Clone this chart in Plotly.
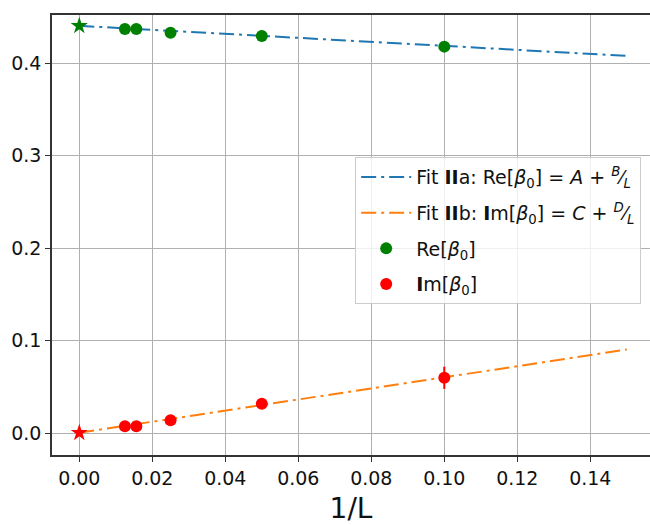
import plotly.graph_objects as go

# Data
inv_L = [0.0125, 0.015625, 0.025, 0.05, 0.1]
re_beta = [0.437, 0.437, 0.433, 0.4295, 0.418]
re_err = [0.001, 0.001, 0.001, 0.002, 0.003]
im_beta = [0.0075, 0.0075, 0.0140, 0.0320, 0.0600]
im_err = [0.001, 0.001, 0.002, 0.003, 0.012]
extrap_x = [0.0]
re_extrap = [0.4405]
im_extrap = [0.0005]
fit_x = [0.0, 0.15]
re_fit = [0.4405, 0.408]
im_fit = [0.0005, 0.0905]
x_ticks = [0.00, 0.02, 0.04, 0.06, 0.08, 0.10, 0.12, 0.14]
y_ticks = [0.0, 0.1, 0.2, 0.3, 0.4]

FONT = "DejaVu Sans"
fig = go.Figure()

fig.add_trace(go.Scatter(
    x=fit_x, y=re_fit, mode="lines", legendgroup="a",
    line=dict(color="#1f77b4", width=2, dash="15px,5px,3px,5px"),
    name="Fit <b>II</b>a: Re[<i>β</i><sub>0</sub>] = <i>A</i> + <sup><i>B</i></sup>⁄<sub><i>L</i></sub>"))
fig.add_trace(go.Scatter(
    x=fit_x, y=im_fit, mode="lines", legendgroup="b",
    line=dict(color="#ff7f0e", width=2, dash="15px,5px,3px,5px"),
    name="Fit <b>II</b>b: <b>I</b>m[<i>β</i><sub>0</sub>] = <i>C</i> + <sup><i>D</i></sup>⁄<sub><i>L</i></sub>"))
fig.add_trace(go.Scatter(
    x=inv_L, y=re_beta, mode="markers", legendgroup="c",
    marker=dict(color="green", size=12),
    error_y=dict(type="data", array=re_err, color="green", thickness=2, width=0),
    name="Re[<i>β</i><sub>0</sub>]"))
fig.add_trace(go.Scatter(
    x=inv_L, y=im_beta, mode="markers", legendgroup="d",
    marker=dict(color="red", size=12),
    error_y=dict(type="data", array=im_err, color="red", thickness=2, width=0),
    name="<b>I</b>m[<i>β</i><sub>0</sub>]"))
fig.add_trace(go.Scatter(
    x=extrap_x, y=re_extrap, mode="markers",
    marker=dict(color="green", size=13, symbol="star"), showlegend=False))
fig.add_trace(go.Scatter(
    x=extrap_x, y=im_extrap, mode="markers",
    marker=dict(color="red", size=13, symbol="star"), showlegend=False))

axis_common = dict(
    showgrid=True, gridcolor="#b0b0b0", gridwidth=1,
    showline=True, linecolor="#333333", linewidth=1.5,
    ticks="outside", ticklen=5, tickcolor="#333333",
    tickfont=dict(family=FONT, size=19, color="#111111"),
    zeroline=False,
)

fig.update_layout(
    width=650, height=525,
    margin=dict(l=52, r=0, t=15, b=70),
    paper_bgcolor="white", plot_bgcolor="white",
    font=dict(family=FONT, size=19, color="#111111"),
    xaxis=dict(axis_common, range=[-0.00748, 0.15636], tickvals=x_ticks,
               tickformat=".2f", mirror=True,
               title=dict(text="1/L", font=dict(family=FONT, size=28), standoff=12)),
    yaxis=dict(axis_common, range=[-0.0235, 0.4522], tickvals=y_ticks,
               tickformat=".1f", mirror=False),
    legend=dict(x=0.507, y=0.677, xanchor="left", yanchor="top",
                bgcolor="rgba(255,255,255,0.8)", bordercolor="#cccccc", borderwidth=1,
                font=dict(family=FONT, size=19, color="#111111"),
                tracegroupgap=8, itemwidth=50),
)

fig.write_html("out.html")
